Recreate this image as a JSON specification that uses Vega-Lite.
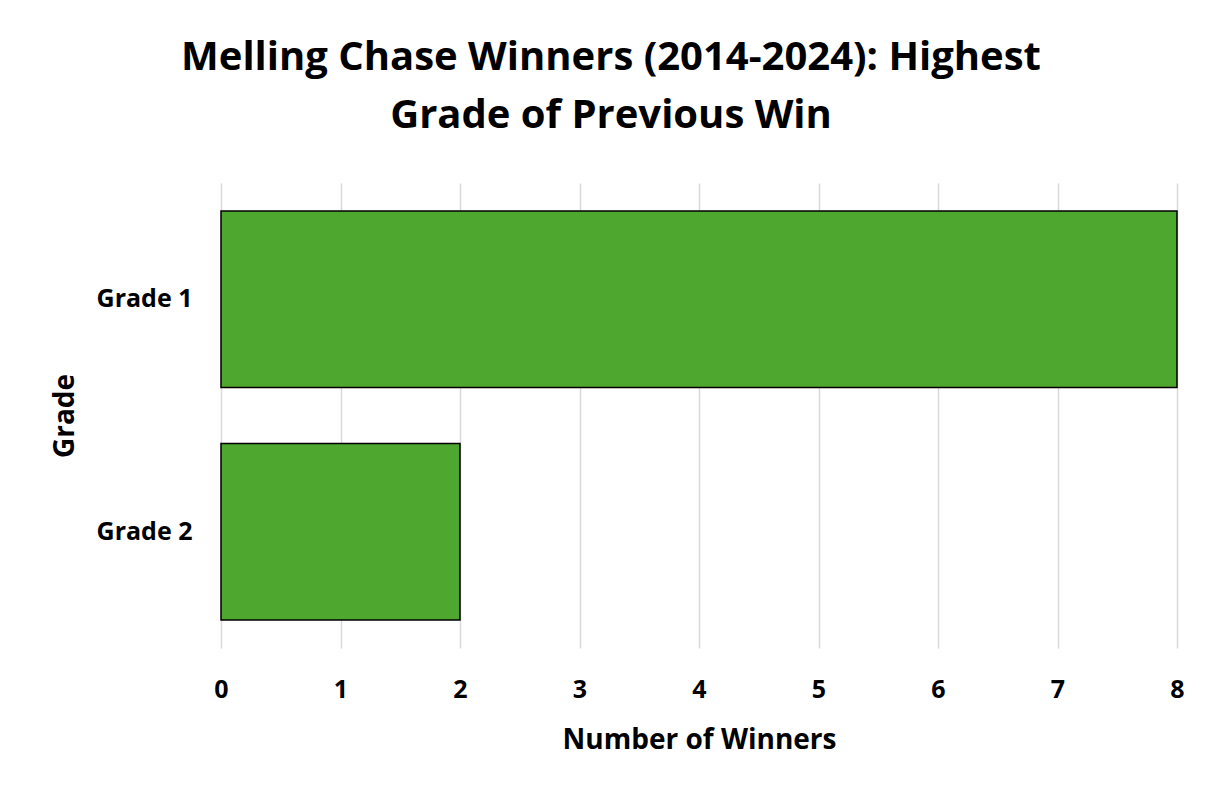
{
  "$schema": "https://vega.github.io/schema/vega-lite/v6.json",
  "autosize": {"type": "none"},
  "width": 956,
  "height": 465,
  "padding": {"left": 221, "top": 183, "right": 50, "bottom": 155},
  "background": "white",
  "title": {
    "text": ["Melling Chase Winners (2014-2024): Highest", "Grade of Previous Win"],
    "font": "Open Sans",
    "fontSize": 40,
    "fontWeight": "bold",
    "color": "#000000",
    "anchor": "middle",
    "dx": -88,
    "offset": 47,
    "lineHeight": 58
  },
  "data": {
    "values": [
      {"Grade": "Grade 1", "Winners": 8},
      {"Grade": "Grade 2", "Winners": 2}
    ]
  },
  "mark": {"type": "bar", "color": "#4EA72E", "stroke": "#000000", "strokeWidth": 1.5},
  "encoding": {
    "y": {
      "field": "Grade",
      "type": "nominal",
      "sort": ["Grade 1", "Grade 2"],
      "scale": {"paddingInner": 0.24, "paddingOuter": 0.12},
      "axis": {
        "title": "Grade",
        "titleFont": "Open Sans",
        "titleFontSize": 28,
        "titleFontWeight": "bold",
        "titleColor": "#000000",
        "titlePadding": 17,
        "labelFont": "Open Sans",
        "labelFontSize": 25,
        "labelFontWeight": "bold",
        "labelColor": "#000000",
        "labelPadding": 29,
        "ticks": false,
        "domain": false,
        "grid": false
      }
    },
    "x": {
      "field": "Winners",
      "type": "quantitative",
      "scale": {"domain": [0, 8], "nice": false},
      "axis": {
        "title": "Number of Winners",
        "titleFont": "Open Sans",
        "titleFontSize": 28,
        "titleFontWeight": "bold",
        "titleColor": "#000000",
        "titlePadding": 24,
        "labelFont": "Open Sans",
        "labelFontSize": 25,
        "labelFontWeight": "bold",
        "labelColor": "#000000",
        "labelPadding": 29,
        "labelOverlap": false,
        "labelFlush": false,
        "values": [0, 1, 2, 3, 4, 5, 6, 7, 8],
        "ticks": false,
        "domain": false,
        "grid": true,
        "gridColor": "#D9D9D9",
        "gridWidth": 1.5
      }
    }
  },
  "config": {"view": {"stroke": null}}
}
